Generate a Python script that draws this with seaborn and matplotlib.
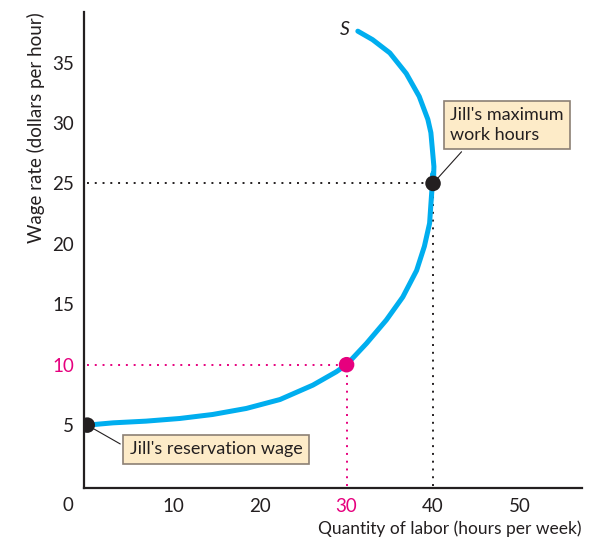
import matplotlib
matplotlib.use("Agg")
import matplotlib.pyplot as plt
import seaborn as sns
import pandas as pd

# Jill's labour supply curve
hours = [0, 3.0, 6.8, 10.7, 14.5, 18.4, 22.3, 26.1, 28.8, 30,
         32.3, 34.6, 36.5, 38.1, 39.0, 39.6, 40.0, 40.05,
         40.1, 40.0, 39.75, 39.4, 38.4, 36.9, 35.0, 33.0, 31.3]
wage = [5, 5.19, 5.33, 5.55, 5.88, 6.38, 7.12, 8.31, 9.41, 10,
        11.76, 13.7, 15.6, 17.8, 19.8, 21.7, 23.6, 25,
        26.4, 28.1, 29.2, 30.3, 32.2, 34.1, 35.8, 36.9, 37.6]

x_ticks = [10, 20, 30, 40, 50]
y_ticks = [5, 10, 15, 20, 25, 30, 35]

reservation = (0, 5)
max_hours = (40, 25)
example = (30, 10)

blue = "#00AEEF"
pink = "#E6007E"
dark = "#231F20"
box_fill = "#FDEBC8"
box_edge = "#8C8074"

sns.set_style("white")
plt.rcParams["font.family"] = ["Lato", "DejaVu Sans"]

fig = plt.figure(figsize=(5.9, 5.38), dpi=100)
ax = fig.add_axes([0.142, 0.093, 0.844, 0.885])

df = pd.DataFrame({"hours": hours, "wage": wage})
sns.lineplot(data=df, x="hours", y="wage", sort=False, color=blue, linewidth=3.6,
             ax=ax, zorder=3)
ax.lines[-1].set_solid_joinstyle("round")

# dotted guide lines
dots = (0, (1, 3))
ax.plot([0, max_hours[0]], [max_hours[1], max_hours[1]], ls=dots, color=dark, lw=1.4, zorder=2)
ax.plot([max_hours[0], max_hours[0]], [0, max_hours[1]], ls=dots, color=dark, lw=1.4, zorder=2)
ax.plot([0, example[0]], [example[1], example[1]], ls=dots, color=pink, lw=1.4, zorder=2)
ax.plot([example[0], example[0]], [0, example[1]], ls=dots, color=pink, lw=1.4, zorder=2)

pts = pd.DataFrame({"x": [reservation[0], max_hours[0]], "y": [reservation[1], max_hours[1]]})
sns.scatterplot(data=pts, x="x", y="y", color=dark, s=125, edgecolor="none", ax=ax, zorder=5)
sns.scatterplot(x=[example[0]], y=[example[1]], color=pink, s=125, edgecolor="none", ax=ax, zorder=5)

# annotation boxes
bbox = dict(boxstyle="square,pad=0.35", fc=box_fill, ec=box_edge, lw=1.2)
ax.annotate("Jill's maximum\nwork hours", xy=max_hours, xytext=(42.0, 29.85),
            ha="left", va="center", fontsize=13, color=dark, linespacing=1.3,
            bbox=bbox, zorder=6,
            arrowprops=dict(arrowstyle="-", color=dark, lw=0.8, relpos=(0.17, 0), shrinkB=4))
ax.annotate("Jill's reservation wage", xy=reservation, xytext=(4.9, 3.0),
            ha="left", va="center", fontsize=13, color=dark,
            bbox=bbox, zorder=6,
            arrowprops=dict(arrowstyle="-", color=dark, lw=0.8, relpos=(0, 0.5), shrinkB=4))

ax.text(30.4, 37.7, "S", style="italic", fontsize=14, color=dark, ha="right", va="center")

ax.set_xlim(-0.4, 57.2)
ax.set_ylim(-0.2, 39.2)
ax.set_xticks(x_ticks)
ax.set_yticks(y_ticks)
ax.tick_params(direction="in", length=8.5, width=1.4, colors=dark, labelsize=13.5, pad=7)
for i, t in enumerate(ax.xaxis.get_major_ticks()):
    if x_ticks[i] in (example[0], max_hours[0]):
        t.tick1line.set_visible(False)
for i, t in enumerate(ax.yaxis.get_major_ticks()):
    if y_ticks[i] in (example[1], max_hours[1]):
        t.tick1line.set_visible(False)
ax.get_xticklabels()[x_ticks.index(30)].set_color(pink)
ax.get_yticklabels()[y_ticks.index(10)].set_color(pink)

ax.text(-2.2, -0.97, "0", fontsize=13.5, color=dark, ha="center", va="top")

sns.despine(ax=ax)
for s in ("left", "bottom"):
    ax.spines[s].set_color(dark)
    ax.spines[s].set_linewidth(1.6)

ax.set_xlabel("Quantity of labor (hours per week)", loc="right", fontsize=12.5, color=dark, labelpad=4)
ax.set_ylabel("Wage rate (dollars per hour)", loc="top", fontsize=13.5, color=dark, labelpad=5)

fig.savefig("out.png", dpi=100)
